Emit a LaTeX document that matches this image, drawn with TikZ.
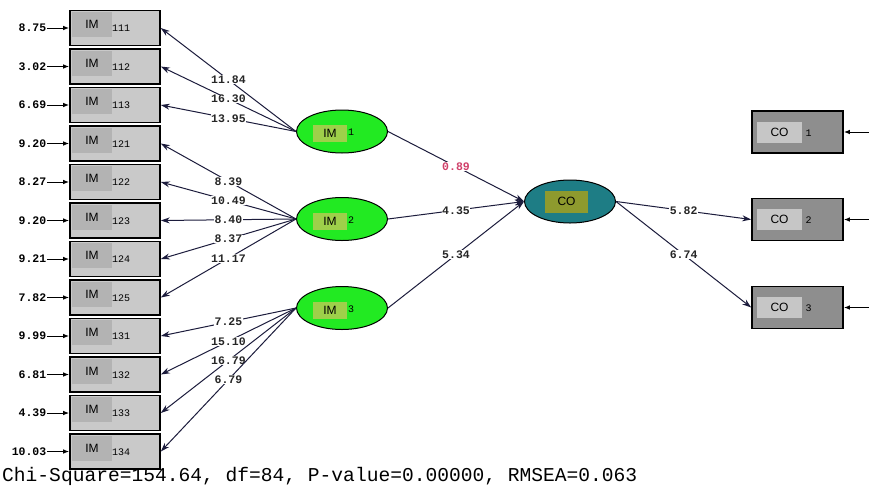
\documentclass[tikz,border=0pt]{standalone}
\usepackage{fontspec}
\setmainfont{Liberation Sans}
\newfontfamily\monofnt{Liberation Mono}
\usetikzlibrary{arrows.meta,shapes.geometric}

\definecolor{boxgray}{HTML}{C9C9C9}
\definecolor{taggray}{HTML}{B3B3B3}
\definecolor{cobox}{HTML}{8E8E8E}
\definecolor{cotag}{HTML}{C6C6C6}
\definecolor{latgreen}{HTML}{22EA22}
\definecolor{lattag}{HTML}{9ED04A}
\definecolor{coteal}{HTML}{1E7D85}
\definecolor{cotagol}{HTML}{8E9A2E}
\definecolor{pathcol}{HTML}{1C1C3C}
\definecolor{redval}{HTML}{D0406A}

\tikzset{
	obsbox/.style={rectangle, draw=black, line width=1.6pt, fill=boxgray, minimum width=90pt, minimum height=35pt, inner sep=0pt},
	cobox/.style={obsbox, fill=cobox, minimum width=91pt, minimum height=42pt},
	tag/.style={rectangle, fill=taggray, minimum width=40pt, minimum height=25pt, inner sep=0pt, font=\fontsize{12}{12}\selectfont},
	latent/.style={ellipse, draw=black, line width=1pt, fill=latgreen, minimum width=91pt, minimum height=43pt, inner sep=0pt},
	idxtxt/.style={font=\monofnt\fontsize{10}{10}\selectfont, inner sep=0pt},
	numtxt/.style={font=\monofnt\bfseries\fontsize{11.5}{11.5}\selectfont, inner sep=0.5pt},
	tval/.style={numtxt, fill=white, text=black!85, pos=0.5},
	errarrow/.style={black, line width=1pt, -{Latex[length=6pt,width=4.5pt]}},
	load/.style={pathcol, line width=1pt, -{Stealth[length=9pt,width=6pt]}}
}

\begin{document}
\begin{tikzpicture}[x=1pt, y=-1pt]
	\useasboundingbox[fill=white] (0,0) rectangle (869,488);

	% indicators of IM
	\foreach \idx/\yy/\err in {111/28/8.75, 112/66.5/3.02, 113/105/6.69, 121/143.5/9.20, 122/182/8.27, 123/220.5/9.20, 124/259/9.21, 125/297.5/7.82, 131/336/9.99, 132/374.5/6.81, 133/413/4.39, 134/451.5/10.03}{
		\node[obsbox] (i\idx) at (115,\yy) {};
		\node[tag] at ([xshift=-23pt,yshift=3.5pt]i\idx.center) {IM};
		\node[idxtxt, anchor=west] at ([xshift=-3pt,yshift=-0.5pt]i\idx.center) {\idx};
		\node[numtxt, anchor=east] (e\idx) at (47,\yy) {\err};
		\draw[errarrow] (e\idx.east) -- (i\idx.west);
	}

	% latent variables
	\foreach \n/\yy in {1/131.5, 2/219, 3/308}{
		\node[latent] (im\n) at (342,\yy) {};
		\node[tag, fill=lattag, minimum width=34pt, minimum height=17pt] at ([xshift=-12pt,yshift=-2pt]im\n.center) {IM};
		\node[idxtxt, anchor=west] at ([xshift=6pt,yshift=-1pt]im\n.center) {\n};
	}
	\node[latent, fill=coteal] (co) at (570,201.5) {};
	\node[tag, fill=cotagol, minimum width=43pt, minimum height=22pt] at ([xshift=-3.5pt]co.center) {CO};

	% indicators of CO
	\foreach \n/\yy in {1/132, 2/219.5, 3/307.5}{
		\node[cobox] (c\n) at (797.5,\yy) {};
		\node[tag, fill=cotag, minimum width=45pt, minimum height=21pt] at ([xshift=-18pt]c\n.center) {CO};
		\node[idxtxt, anchor=west] at ([xshift=8pt,yshift=-1pt]c\n.center) {\n};
		\coordinate (ec\n) at (869,\yy);
		\draw[errarrow] (ec\n) -- (c\n.east);
	}

	% loadings
	\foreach \lat/\idx/\val in {im1/111/11.84, im1/112/16.30, im1/113/13.95, im2/121/8.39, im2/122/10.49, im2/123/8.40, im2/124/8.37, im2/125/11.17, im3/131/7.25, im3/132/15.10, im3/133/16.79, im3/134/6.79}
		\draw[load] (\lat.west) -- node[tval] {\val} (i\idx.east);

	\draw[load] (im1.east) -- node[tval, text=redval] {0.89} (co.west);
	\draw[load] (im2.east) -- node[tval] {4.35} (co.west);
	\draw[load] (im3.east) -- node[tval] {5.34} (co.west);
	\draw[load] (co.east) -- node[tval] {5.82} (c2.west);
	\draw[load] (co.east) -- node[tval] {6.74} (c3.west);

	\node[anchor=base west, inner sep=0pt, font=\monofnt\fontsize{19.6}{19.6}\selectfont] (fit) at (2,481) {Chi-Square=154.64, df=84, P-value=0.00000, RMSEA=0.063};
\end{tikzpicture}
\end{document}
